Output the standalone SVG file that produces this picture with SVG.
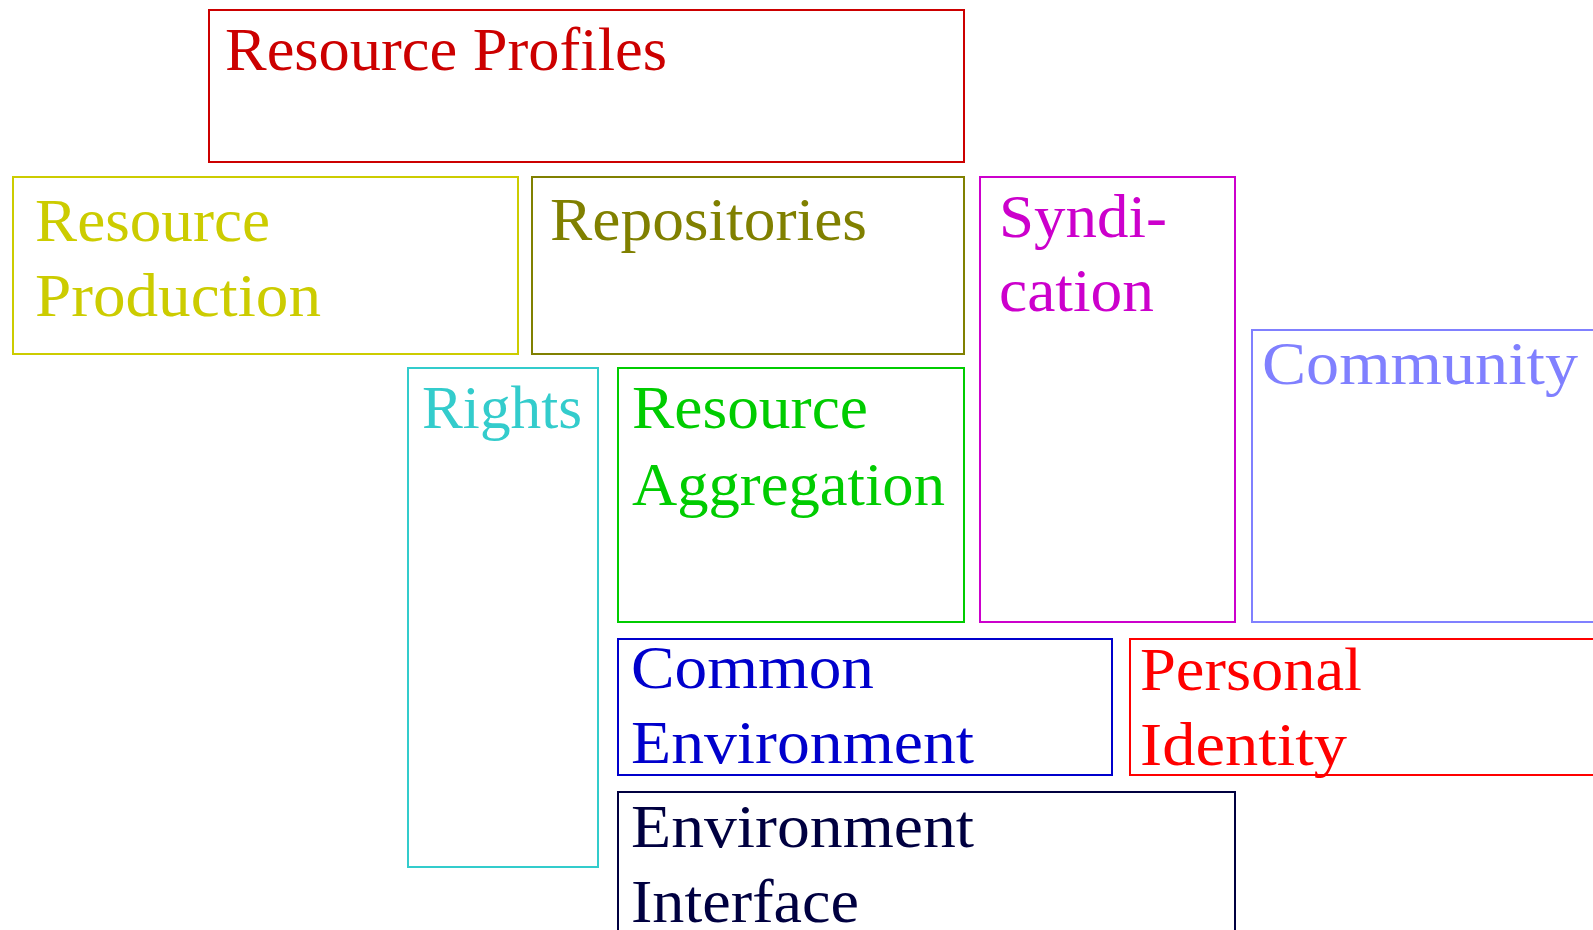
<svg xmlns="http://www.w3.org/2000/svg" width="1593" height="930" viewBox="0 0 1593 930">
<style>
rect{fill:none;stroke-width:2}
text{font-family:"Liberation Serif","Times New Roman",serif;font-size:61px}
</style>
<rect x="0" y="0" width="1593" height="930" style="fill:#fff;stroke:none"/>
<g id="resource-profiles"><rect x="209" y="10" width="755" height="152" stroke="#cc0000"/><text x="225" y="70" fill="#cc0000" textLength="442" lengthAdjust="spacingAndGlyphs">Resource Profiles</text></g>
<g id="resource-production"><rect x="13" y="177" width="505" height="177" stroke="#cccc00"/><text fill="#cccc00"><tspan x="35" y="241" textLength="235" lengthAdjust="spacingAndGlyphs">Resource</tspan><tspan x="35" y="316" textLength="286" lengthAdjust="spacingAndGlyphs">Production</tspan></text></g>
<g id="repositories"><rect x="532" y="177" width="432" height="177" stroke="#808000"/><text x="550" y="240" fill="#808000" textLength="317" lengthAdjust="spacingAndGlyphs">Repositories</text></g>
<g id="syndication"><rect x="980" y="177" width="255" height="445" stroke="#cc00cc"/><text fill="#cc00cc"><tspan x="999" y="237" textLength="168" lengthAdjust="spacingAndGlyphs">Syndi-</tspan><tspan x="999" y="311" textLength="155" lengthAdjust="spacingAndGlyphs">cation</tspan></text></g>
<g id="community"><rect x="1252" y="330" width="345" height="292" stroke="#8080ff"/><text x="1262" y="384" fill="#8080ff" textLength="316" lengthAdjust="spacingAndGlyphs">Community</text></g>
<g id="rights"><rect x="408" y="368" width="190" height="499" stroke="#33cccc"/><text x="422" y="428" fill="#33cccc" textLength="160" lengthAdjust="spacingAndGlyphs">Rights</text></g>
<g id="resource-aggregation"><rect x="618" y="368" width="346" height="254" stroke="#00cc00"/><text fill="#00cc00"><tspan x="632" y="428" textLength="236" lengthAdjust="spacingAndGlyphs">Resource</tspan><tspan x="632" y="505" textLength="313" lengthAdjust="spacingAndGlyphs">Aggregation</tspan></text></g>
<g id="common-environment"><rect x="618" y="639" width="494" height="136" stroke="#0000cc"/><text fill="#0000cc"><tspan x="631" y="688" textLength="243" lengthAdjust="spacingAndGlyphs">Common</tspan><tspan x="631" y="763" textLength="343" lengthAdjust="spacingAndGlyphs">Environment</tspan></text></g>
<g id="personal-identity"><rect x="1130" y="639" width="470" height="136" stroke="#ff0000"/><text fill="#ff0000"><tspan x="1140" y="690" textLength="222" lengthAdjust="spacingAndGlyphs">Personal</tspan><tspan x="1140" y="765" textLength="207" lengthAdjust="spacingAndGlyphs">Identity</tspan></text></g>
<g id="environment-interface"><rect x="618" y="792" width="617" height="150" stroke="#000040"/><text fill="#000040"><tspan x="631" y="847" textLength="343" lengthAdjust="spacingAndGlyphs">Environment</tspan><tspan x="631" y="922" textLength="228" lengthAdjust="spacingAndGlyphs">Interface</tspan></text></g>
<g id="connectors"></g>
</svg>
